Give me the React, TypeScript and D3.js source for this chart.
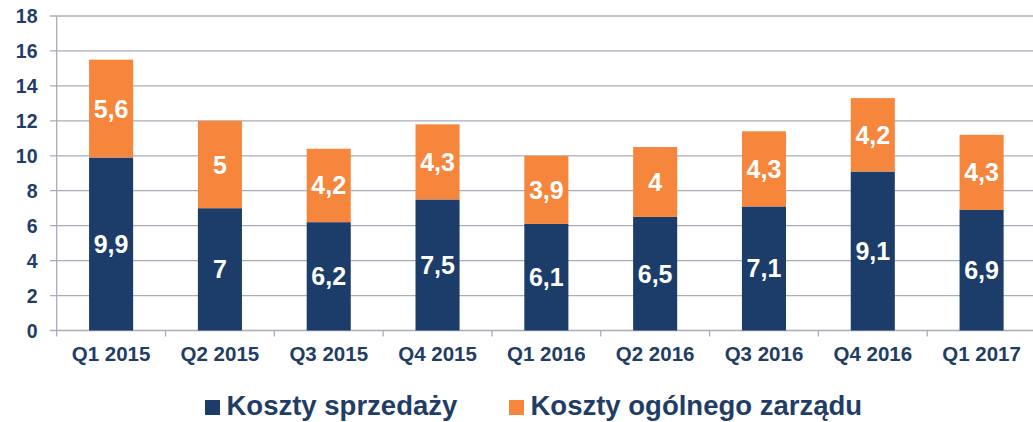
import React from "react";
import * as d3 from "d3";

const categories = ["Q1 2015","Q2 2015","Q3 2015","Q4 2015","Q1 2016","Q2 2016","Q3 2016","Q4 2016","Q1 2017"];
const sprzedazy = [9.9, 7, 6.2, 7.5, 6.1, 6.5, 7.1, 9.1, 6.9];
const zarzadu = [5.6, 5, 4.2, 4.3, 3.9, 4, 4.3, 4.2, 4.3];
const yTicks = [0, 2, 4, 6, 8, 10, 12, 14, 16, 18];
const seriesNames = ["Koszty sprzedaży", "Koszty ogólnego zarządu"];

const NAVY = "#1c3d6a";
const ORANGE = "#f5863c";
const TEXT = "#1f3d66";
const GRID = "#a9adbb";

export default function App() {
  const W = 1033, H = 422;
  const left = 56.7, right = 1036, top = 16, bottom = 330.5;
  const x = d3.scaleBand<string>().domain(categories).range([left, right]).paddingInner(0).paddingOuter(0);
  const y = d3.scaleLinear().domain([0, 18]).range([bottom, top]);
  const bw = x.bandwidth() * 0.405;
  const fmt = (v: number) => String(v).replace(".", ",");
  const font = "'Liberation Sans', Arial, sans-serif";

  return (
    <svg width={W} height={H} style={{ position: "absolute", left: 0, top: 0 }} fontFamily={font}>
      <rect width={W} height={H} fill="#fff" />
      {yTicks.map((t) => (
        <g key={t}>
          <line x1={50} x2={right} y1={y(t)} y2={y(t)} stroke={GRID} strokeWidth={1.3} />
          <text x={37.5} y={y(t)} dy="0.36em" textAnchor="end" fontSize={19.5} fontWeight="bold" fill={TEXT}>{t}</text>
        </g>
      ))}
      <line x1={left} x2={left} y1={top} y2={bottom + 6} stroke={GRID} strokeWidth={1.3} />
      {categories.map((c) => (
        <line key={c} x1={(x(c) as number) + x.bandwidth()} x2={(x(c) as number) + x.bandwidth()} y1={bottom} y2={bottom + 6} stroke={GRID} strokeWidth={1.3} />
      ))}
      {categories.map((c, i) => {
        const cx = (x(c) as number) + x.bandwidth() / 2;
        const s = sprzedazy[i], z = zarzadu[i];
        return (
          <g key={c}>
            <rect x={cx - bw / 2} width={bw} y={y(s)} height={y(0) - y(s)} fill={NAVY} />
            <rect x={cx - bw / 2} width={bw} y={y(s + z)} height={y(s) - y(s + z)} fill={ORANGE} />
            <text x={cx} y={y(s / 2)} dy="0.36em" textAnchor="middle" fontSize={25} fontWeight="bold" fill="#fff">{fmt(s)}</text>
            <text x={cx} y={y(s + z / 2)} dy="0.36em" textAnchor="middle" fontSize={25} fontWeight="bold" fill="#fff">{fmt(z)}</text>
            <text x={cx} y={354} dy="0.36em" textAnchor="middle" fontSize={20.5} fontWeight="bold" fill={TEXT}>{c}</text>
          </g>
        );
      })}
      <g>
        <rect x={205} y={400} width={15} height={15} fill={NAVY} />
        <text x={226.5} y={415} fontSize={27.5} fontWeight="bold" fill={TEXT}>{seriesNames[0]}</text>
        <rect x={509} y={400} width={15} height={15} fill={ORANGE} />
        <text x={530.5} y={415} fontSize={27.5} fontWeight="bold" fill={TEXT}>{seriesNames[1]}</text>
      </g>
    </svg>
  );
}
